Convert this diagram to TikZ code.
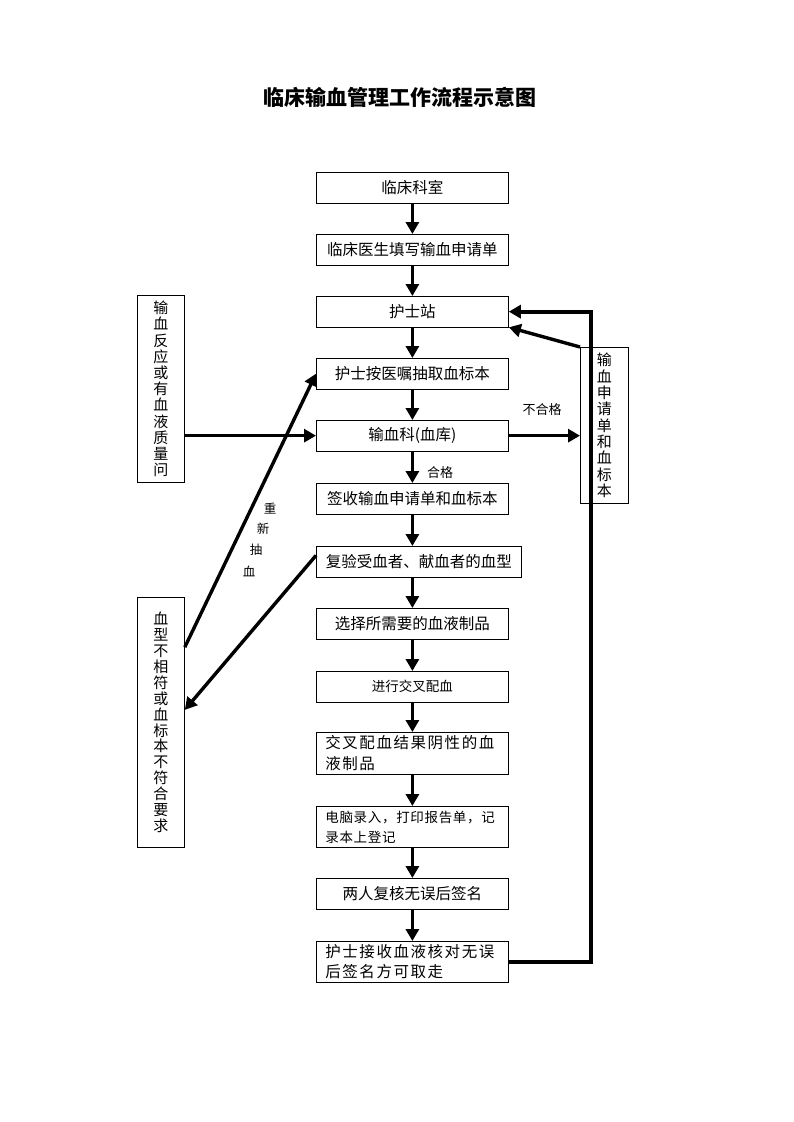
\documentclass[tikz,border=0pt]{standalone}
\usepackage{fontspec}
\newfontfamily\cjk{Noto Sans CJK SC}
\newfontfamily\cjkw[LetterSpace=10]{Noto Sans CJK SC}
\newfontfamily\cjkv[LetterSpace=5]{Noto Sans CJK SC}
\usetikzlibrary{arrows.meta,calc}
\begin{document}
\begin{tikzpicture}[x=1pt,y=-1pt,
  box/.style={draw, line width=0.8pt, anchor=north west, minimum width=192pt, minimum height=30.5pt, inner sep=0pt, font=\cjk\fontsize{15.5}{19}\selectfont},
  twoline/.style={box, text width=174pt, inner xsep=9pt, align=left},
  vbox/.style={draw, line width=0.8pt, anchor=north west, minimum width=47pt, inner sep=0pt, align=center},
  arr/.style={line width=3.4pt, -{Triangle[length=12pt,width=13pt]}},
  lbl/.style={font=\cjk\fontsize{13}{15}\selectfont, inner sep=0pt}]
\useasboundingbox (0,0) rectangle (793,1122);
\node[font=\cjk\bfseries\fontsize{21}{25}\selectfont] (title) at (400,97) {临床输血管理工作流程示意图};

\node[box] (a1) at (316,172) {临床科室};
\node[box] (a2) at (316,234) {临床医生填写输血申请单};
\node[box] (a3) at (316,296) {护士站};
\node[box] (a4) at (316,358) {护士按医嘱抽取血标本};
\node[box] (a5) at (316,420) {输血科(血库)};
\node[box] (a6) at (316,483) {签收输血申请单和血标本};
\node[box, minimum width=205pt] (a7) at (316,546) {复验受血者、献血者的血型};
\node[box] (a8) at (316,608) {选择所需要的血液制品};
\node[box, font=\cjk\fontsize{13.5}{16}\selectfont] (a9) at (316,671) {进行交叉配血};
\node[twoline, minimum height=42pt, font=\cjkw\fontsize{15.5}{21}\selectfont] (a10) at (316,732) {交叉配血结果阴性的血\\液制品};
\node[twoline, minimum height=41pt, font=\cjkv\fontsize{13.5}{20}\selectfont] (a11) at (316,806) {电脑录入，打印报告单，记\\录本上登记};
\node[box] (a12) at (316,878) {两人复核无误后签名};
\node[twoline, minimum height=41pt, font=\cjkw\fontsize{15.5}{20}\selectfont] (a13) at (316,941) {护士接收血液核对无误\\后签名方可取走};

\node[vbox, minimum height=187pt, font=\cjk\fontsize{15}{16.2}\selectfont] (lt) at (137,295) {输\\血\\反\\应\\或\\有\\血\\液\\质\\量\\问};
\node[vbox, minimum height=250pt, font=\cjk\fontsize{15}{15.9}\selectfont] (lb) at (137,597) {血\\型\\不\\相\\符\\或\\血\\标\\本\\不\\符\\合\\要\\求};
\node[vbox, minimum width=48pt, minimum height=156pt, font=\cjk\fontsize{15}{16.3}\selectfont] (rb) at (580,347) {输\\血\\申\\请\\单\\和\\血\\标\\本};

\foreach \p/\q in {a1/a2,a2/a3,a3/a4,a4/a5,a5/a6,a6/a7,a7/a8,a8/a9,a9/a10,a10/a11,a11/a12,a12/a13}
  \draw[arr] (\p.south -| a1.south) -- (\q.north -| a1.south);

\draw[arr] (lt.east |- a5.west) -- (a5.west);
\draw[arr] (a5.east) -- (rb.west |- a5.east);
\node[lbl] (ng) at (542,410) {不合格};
\node[lbl] (ok) at (440,473) {合格};

\draw[arr] (rb.north west) -- (a3.south east);
\coordinate (fb1) at (591,961);
\draw[line width=4pt, -{Triangle[length=12pt,width=13pt]}] (a13.east) -| (fb1 |- a3.east) -- (a3.east);

\draw[arr] ($(lb.north east)!0.2!(lb.south east)$) -- (a4.west);
\draw[arr] ($(a7.north west)!0.3!(a7.south west)$) -- ($(lb.north east)!0.45!(lb.south east)$);
\node[lbl, font=\cjk\fontsize{12.5}{15}\selectfont] (r1) at (270,509) {重};
\node[lbl, font=\cjk\fontsize{12.5}{15}\selectfont] (r2) at (263,529) {新};
\node[lbl, font=\cjk\fontsize{12.5}{15}\selectfont] (r3) at (256,550) {抽};
\node[lbl, font=\cjk\fontsize{12.5}{15}\selectfont] (r4) at (249,571) {血};
\end{tikzpicture}
\end{document}
